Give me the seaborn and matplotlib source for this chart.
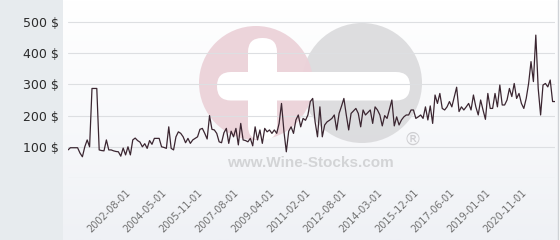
import numpy as np
import matplotlib
matplotlib.use("Agg")
import matplotlib.pyplot as plt
import seaborn as sns
from matplotlib.patches import Circle, FancyBboxPatch, Rectangle
from matplotlib.colors import LinearSegmentedColormap

# ---- data ----
prices = [
    90, 97, 97, 97, 97, 80, 68, 100, 122, 100,
    287, 287, 287, 90, 88, 87, 122, 90, 90, 87,
    85, 84, 70, 96, 74, 100, 74, 122, 128, 120,
    115, 100, 110, 95, 120, 108, 127, 127, 127, 100,
    98, 95, 164, 95, 90, 132, 148, 143, 132, 113,
    127, 111, 122, 127, 132, 156, 159, 143, 125, 200,
    156, 154, 143, 116, 113, 145, 159, 111, 150, 132,
    159, 106, 175, 122, 120, 116, 127, 103, 164, 122,
    154, 111, 159, 148, 154, 143, 154, 143, 175, 239,
    150, 84, 150, 164, 143, 186, 202, 164, 191, 185,
    202, 245, 255, 180, 132, 228, 132, 170, 180, 185,
    191, 202, 154, 207, 230, 255, 202, 154, 207, 215,
    223, 207, 164, 218, 202, 210, 218, 175, 228, 218,
    202, 167, 200, 191, 220, 250, 167, 196, 170, 186,
    196, 202, 202, 218, 218, 191, 196, 202, 191, 228,
    186, 231, 175, 266, 239, 271, 223, 218, 228, 245,
    228, 260, 291, 213, 228, 218, 228, 239, 218, 266,
    228, 202, 250, 218, 188, 271, 223, 223, 271, 228,
    298, 234, 234, 250, 287, 261, 303, 255, 271, 239,
    223, 255, 303, 373, 309, 458, 287, 202, 298, 303,
    292, 314, 245, 245,
]
x_tick_labels = [
    "2002-08-01", "2004-05-01", "2005-11-01", "2007-08-01",
    "2009-04-01", "2011-02-01", "2012-08-01", "2014-03-01",
    "2015-12-01", "2017-06-01", "2019-01-01", "2020-11-01",
]
y_ticks = [0, 100, 200, 300, 400, 500]
y_tick_labels = ["", "100 $", "200 $", "300 $", "400 $", "500 $"]

sns.set_style("white")
plt.rcParams["font.family"] = ["DejaVu Sans"]

W, H = 560, 240
fig = plt.figure(figsize=(W / 100, H / 100), dpi=100)
fig.patch.set_facecolor("white")

# ---- background / decoration layer (pixel coordinates) ----
bg = fig.add_axes([0, 0, 1, 1], zorder=0)
grad = np.linspace(0, 1, 200).reshape(-1, 1)
cmap = LinearSegmentedColormap.from_list("g", ["#ffffff", "#f8f9fb", "#eff1f5"])
bg.imshow(grad, extent=(63, 558, 240, 0), cmap=cmap, aspect="auto", origin="upper")
bg.add_patch(Rectangle((0, 0), 63, 240, color="#e7ebee", lw=0))
bg.plot([558, 558], [0, 240], color="#cfd2d6", lw=1)

# watermark
bg.add_patch(Circle((362, 83), 60, color="#dadadc", lw=0, alpha=0.9))
bg.add_patch(Circle((256, 83), 57, color="#ecd2d9", lw=0, alpha=0.95))
bg.add_patch(FancyBboxPatch((262, 52), 1, 74, boxstyle="round,pad=14,rounding_size=14",
                            color="white", lw=0))
bg.add_patch(FancyBboxPatch((231, 86), 165, 0.5, boxstyle="round,pad=14,rounding_size=14",
                            color="white", lw=0))
bg.text(310, 163, "www.Wine-Stocks.com", fontsize=11, fontweight="bold",
        family=["Liberation Sans", "DejaVu Sans"], color="#d3d4d6", ha="center", va="center")
bg.text(413, 140, "\u00ae", fontsize=13, color="#cfcfd2", ha="center", va="center")
bg.set_xlim(0, W)
bg.set_ylim(H, 0)
bg.axis("off")

# ---- main chart ----
ymax = 540
ax = fig.add_axes([68 / W, 62 / H, (555 - 68) / W, (ymax * 0.312) / H], zorder=1)
ax.patch.set_alpha(0)
idx = np.arange(len(prices))
sns.lineplot(x=idx, y=prices, ax=ax, color="#3b2631", linewidth=0.9)
ax.set_xlim(0, len(prices) - 1)
ax.set_ylim(0, ymax)

ax.set_yticks(y_ticks)
ax.set_yticklabels(y_tick_labels, fontsize=9, color="#2b2b2b")
tick_pos = list(range(24, len(prices), 15))[: len(x_tick_labels)]
ax.set_xticks(tick_pos)
ax.set_xticklabels(x_tick_labels, rotation=45, ha="right", rotation_mode="anchor",
                   fontsize=7, color="#707070")
ax.tick_params(axis="y", length=0, pad=6.5)
ax.tick_params(axis="x", length=0, pad=7)
ax.yaxis.grid(True, color="#dddfe2", linewidth=0.8)
ax.xaxis.grid(False)
for s in ax.spines.values():
    s.set_visible(False)
ax.set_xlabel("")
ax.set_ylabel("")

fig.savefig("out.png", dpi=100)
